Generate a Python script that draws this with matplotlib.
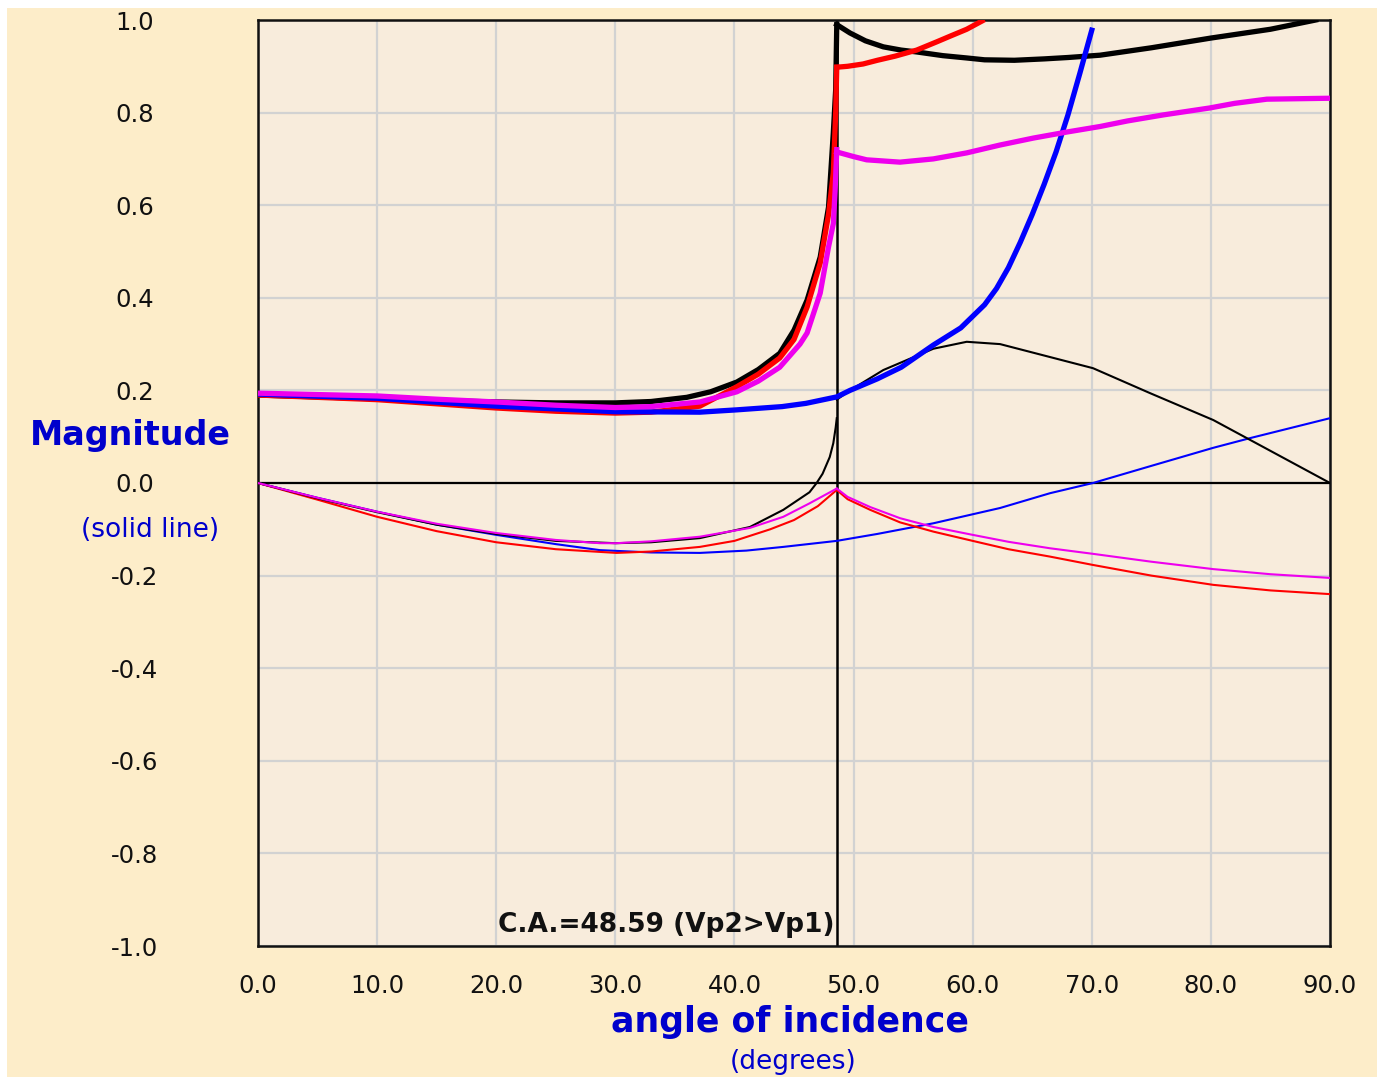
import matplotlib
matplotlib.use("Agg")
import matplotlib.pyplot as plt
from matplotlib.patches import Rectangle

ca = 48.59

# thick curves (solid, heavy)
blk_pre_x = [0, 5, 10, 15, 20, 25, 30, 33, 36, 38, 40.2, 42, 43.8, 45, 46.1, 47.2, 47.9, 48.3, 48.5, 48.59]
blk_pre_y = [0.190, 0.186, 0.182, 0.178, 0.175, 0.173, 0.173, 0.176, 0.185, 0.197, 0.218, 0.245, 0.28, 0.33, 0.395, 0.488, 0.596, 0.756, 0.85, 0.99]
blk_post_x = [48.59, 49.7, 51, 52.5, 54, 55.3, 57.5, 59.5, 61, 63.5, 66, 68, 70.7, 75, 80, 85, 88.8]
blk_post_y = [0.99, 0.972, 0.955, 0.942, 0.935, 0.931, 0.923, 0.918, 0.914, 0.913, 0.916, 0.919, 0.924, 0.94, 0.961, 0.98, 1.0]

red_pre_x = [0, 5, 10, 15, 20, 25, 30, 33, 37.1, 38.5, 40.2, 42, 43.8, 45, 46.1, 47.2, 47.9, 48.3, 48.5, 48.59]
red_pre_y = [0.19, 0.185, 0.18, 0.171, 0.162, 0.155, 0.151, 0.153, 0.166, 0.185, 0.208, 0.235, 0.27, 0.31, 0.38, 0.475, 0.58, 0.67, 0.8, 0.898]
red_post_x = [48.59, 49.5, 50.8, 52, 53.5, 55.3, 57, 58.1, 59.5, 60.8]
red_post_y = [0.898, 0.9, 0.905, 0.913, 0.922, 0.935, 0.953, 0.965, 0.98, 0.998]

mag_pre_x = [0, 5, 10, 15, 20, 25, 30, 33, 37.1, 40.2, 42, 43.8, 45.5, 46.1, 47.2, 47.9, 48.3, 48.45, 48.59]
mag_pre_y = [0.194, 0.191, 0.188, 0.181, 0.175, 0.168, 0.163, 0.165, 0.175, 0.197, 0.22, 0.25, 0.3, 0.324, 0.41, 0.51, 0.56, 0.63, 0.72]
mag_post_x = [48.59, 50, 51.1, 53.9, 56.7, 59.5, 62.3, 65.1, 67.9, 70.7, 73, 76, 79.9, 82, 84.7, 90]
mag_post_y = [0.715, 0.705, 0.698, 0.693, 0.70, 0.713, 0.73, 0.745, 0.758, 0.77, 0.782, 0.795, 0.81, 0.82, 0.829, 0.831]

blu_x = [0, 10, 20, 30, 37.1, 40.2, 44, 46, 48.59, 49.7, 52, 54, 56.7, 59, 60, 61, 62, 63, 64, 65, 66, 67, 68, 69, 70]
blu_y = [0.192, 0.183, 0.166, 0.154, 0.153, 0.158, 0.165, 0.172, 0.186, 0.2, 0.225, 0.25, 0.298, 0.335, 0.36, 0.385, 0.42, 0.465, 0.52, 0.58, 0.645, 0.715, 0.795, 0.885, 0.978]

# thin curves
tblk_pre_x = [0, 5, 10, 15, 20, 25, 30, 33, 37.1, 41.3, 44.1, 46.3, 46.9, 47.4, 48.0, 48.3, 48.5, 48.59]
tblk_pre_y = [0, -0.033, -0.063, -0.09, -0.11, -0.125, -0.13, -0.128, -0.119, -0.095, -0.058, -0.02, 0.0, 0.02, 0.056, 0.086, 0.12, 0.14]
tblk_post_x = [48.59, 49.7, 52.5, 56.7, 59.5, 62.3, 66.5, 70.1, 74.9, 80.2, 83.3, 90]
tblk_post_y = [0.18, 0.2, 0.244, 0.29, 0.305, 0.30, 0.272, 0.248, 0.194, 0.136, 0.093, 0.0]

tred_pre_x = [0, 5, 10, 15, 20, 25, 30.1, 33, 37.1, 40, 43, 45, 47, 48.59]
tred_pre_y = [0, -0.036, -0.073, -0.104, -0.128, -0.143, -0.151, -0.148, -0.138, -0.125, -0.1, -0.08, -0.05, -0.015]
tred_post_x = [48.59, 49.5, 51.4, 53.9, 56.7, 60, 63, 66.5, 70.1, 75, 80.2, 85, 90]
tred_post_y = [-0.015, -0.035, -0.058, -0.085, -0.105, -0.125, -0.143, -0.159, -0.177, -0.2, -0.22, -0.232, -0.24]

tmag_pre_x = [0, 5, 10, 15, 20, 25, 28.7, 30.1, 33, 37.1, 41.3, 44.1, 46.3, 48.59]
tmag_pre_y = [0, -0.032, -0.062, -0.088, -0.108, -0.123, -0.13, -0.13, -0.126, -0.116, -0.097, -0.073, -0.044, -0.012]
tmag_post_x = [48.59, 49.5, 51.4, 53.9, 56.7, 60, 63, 66.5, 70.1, 75, 80.2, 85, 90]
tmag_post_y = [-0.012, -0.03, -0.052, -0.076, -0.095, -0.112, -0.127, -0.141, -0.153, -0.17, -0.186, -0.197, -0.205]

tblu_x = [0, 5, 10, 15, 20, 25, 28.7, 33, 37.1, 41, 44.1, 48.59, 52, 56.7, 62.3, 66.5, 70.1, 75, 80.2, 83.3, 90]
tblu_y = [0, -0.032, -0.062, -0.09, -0.112, -0.132, -0.145, -0.15, -0.151, -0.146, -0.138, -0.125, -0.11, -0.087, -0.054, -0.022, 0.0, 0.037, 0.076, 0.097, 0.14]

xticks = [0, 10, 20, 30, 40, 50, 60, 70, 80, 90]
yticks = [-1.0, -0.8, -0.6, -0.4, -0.2, 0.0, 0.2, 0.4, 0.6, 0.8, 1.0]

outer_bg = "#fdedc9"
plot_bg = "#f8ecdc"
txt_blue = "#0000cc"
blue = "#0000ff"
magenta = "#ee00ee"

fig = plt.figure(figsize=(13.77, 10.79), dpi=100)
fig.patch.set_facecolor("white")
fig.patches.append(Rectangle((7 / 1377, 2 / 1079), 1, 1 - 10 / 1079,
                             transform=fig.transFigure, facecolor=outer_bg,
                             edgecolor="none", zorder=-10))

ax = fig.add_axes([258 / 1377, 1 - 946 / 1079, (1330 - 258) / 1377, (946 - 20) / 1079])
ax.set_zorder(1)
ax.set_facecolor(plot_bg)
ax.set_xlim(0, 90)
ax.set_ylim(-1, 1)
ax.set_xticks(xticks)
ax.set_yticks(yticks)
ax.set_xticklabels([f"{v:.1f}" for v in xticks])
ax.set_yticklabels([f"{v:.1f}" for v in yticks])
ax.tick_params(length=0, labelsize=17.5, colors="#111111")
ax.tick_params(axis="x", pad=20)
ax.tick_params(axis="y", pad=89)
for lbl in ax.get_yticklabels():
    lbl.set_horizontalalignment("center")
ax.grid(True, color="#d2d2d2", linewidth=1.6)
ax.set_axisbelow(True)
for s in ax.spines.values():
    s.set_linewidth(1.8)
    s.set_color("#111111")

ax.axhline(0, color="black", lw=1.6, zorder=2)
ax.axvline(ca, color="black", lw=1.8, zorder=2)

thin = 1.5
ax.plot(tblu_x, tblu_y, color=blue, lw=thin, zorder=3)
ax.plot(tred_pre_x, tred_pre_y, color="red", lw=thin, zorder=3)
ax.plot(tred_post_x, tred_post_y, color="red", lw=thin, zorder=3)
ax.plot(tblk_pre_x, tblk_pre_y, color="black", lw=thin, zorder=3)
ax.plot(tblk_post_x, tblk_post_y, color="black", lw=thin, zorder=3)
ax.plot(tmag_pre_x, tmag_pre_y, color=magenta, lw=thin, zorder=3)
ax.plot(tmag_post_x, tmag_post_y, color=magenta, lw=thin, zorder=3)

thick = 3.8
ax.plot(blk_pre_x, blk_pre_y, color="black", lw=thick, zorder=4)
ax.plot(blk_post_x, blk_post_y, color="black", lw=thick, zorder=4)
ax.plot(red_pre_x, red_pre_y, color="red", lw=thick, zorder=4)
ax.plot(red_post_x, red_post_y, color="red", lw=thick, zorder=4)
ax.plot(blu_x, blu_y, color=blue, lw=thick, zorder=4)
ax.plot(mag_pre_x, mag_pre_y, color=magenta, lw=thick, zorder=4)
ax.plot(mag_post_x, mag_post_y, color=magenta, lw=thick, zorder=4)

ax.text(ca - 0.2, -0.955, "C.A.=48.59 (Vp2>Vp1)", ha="right", va="center",
        fontsize=19, fontweight="bold", color="#111111", zorder=5)

fig.text(130 / 1377, 1 - 436 / 1079, "Magnitude", ha="center", va="center",
         fontsize=24, fontweight="bold", color=txt_blue)
fig.text(150 / 1377, 1 - 530 / 1079, "(solid line)", ha="center", va="center",
         fontsize=19, color=txt_blue)
fig.text(790 / 1377, 1 - 1022 / 1079, "angle of incidence", ha="center", va="center",
         fontsize=25, fontweight="bold", color=txt_blue)
fig.text(793 / 1377, 1 - 1062 / 1079, "(degrees)", ha="center", va="center",
         fontsize=19, color=txt_blue)

fig.savefig("out.png", dpi=100, facecolor=fig.get_facecolor())
